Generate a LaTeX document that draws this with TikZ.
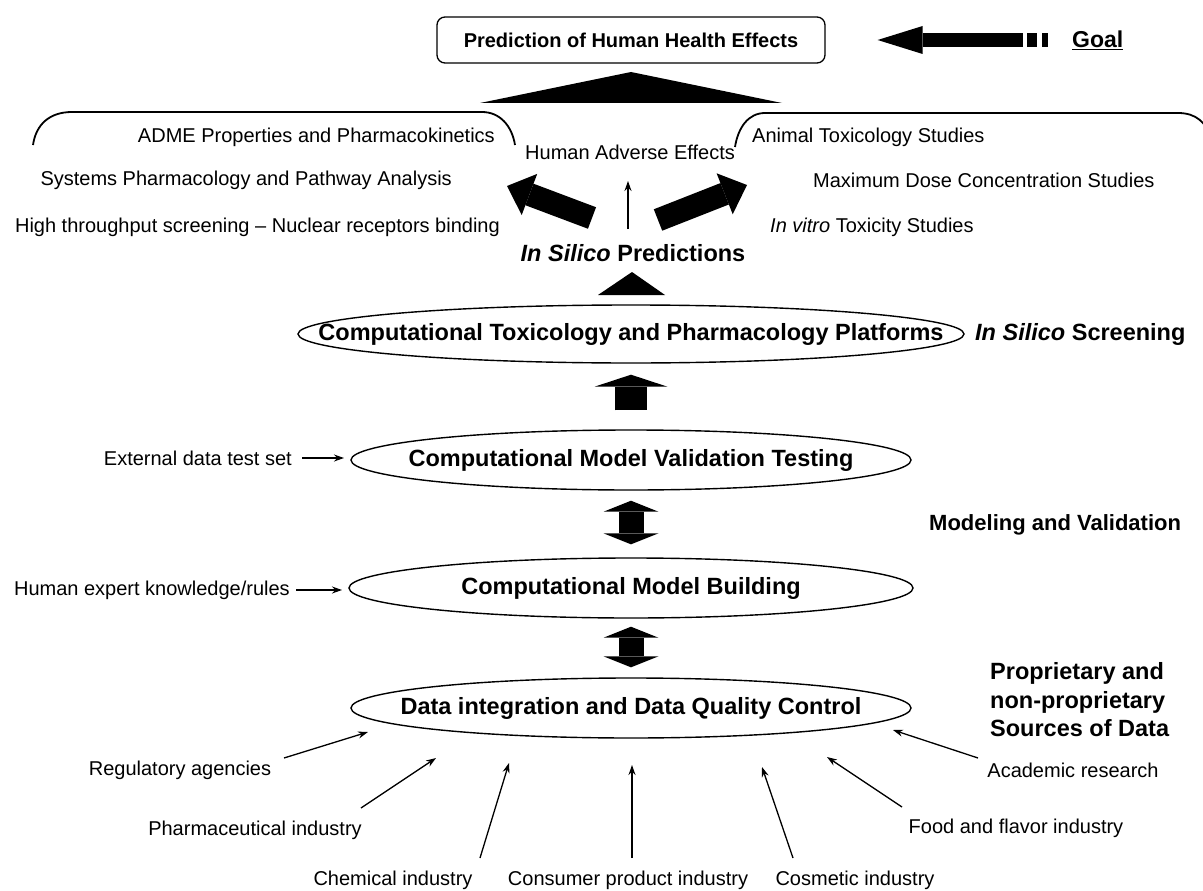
\documentclass[tikz,border=0pt]{standalone}
\usepackage{fontspec}
\setmainfont{Liberation Sans}
\usetikzlibrary{arrows.meta,shapes.geometric}
\begin{document}
\begin{tikzpicture}[x=1pt,y=-1pt,
  txt/.style={font=\fontsize{20}{24}\selectfont, inner sep=0pt},
  btxt/.style={font=\fontsize{23.5}{28.5}\selectfont\bfseries, inner sep=0pt},
  oval/.style={draw, ellipse, line width=1.4pt, inner sep=0pt},
  thinarrow/.style={line width=1.3pt, -{Stealth[length=10pt,width=7pt]}},
  fatarrow/.style={line width=23pt, -{Triangle[length=24pt,width=44pt,line width=0pt]}},
  bracket/.style={line width=1.8pt},
]
\useasboundingbox (0,0) rectangle (1203,891);

% goal box
\node[draw, rounded corners=8pt, line width=1.3pt, minimum width=388pt, minimum height=46pt,
      font=\fontsize{20}{24}\selectfont\bfseries, inner sep=0pt] (goalbox) at (631,40) {Prediction of Human Health Effects};
\coordinate (gs) at (1023,40);
\draw[line width=14pt, -{Triangle[length=45pt,width=28pt,line width=0pt]}, shorten >=52pt] (gs) -- (goalbox.east);
\fill (1027,33) rectangle (1037,47);
\fill (1042,33) rectangle (1048,47);
\node[font=\fontsize{23}{28}\selectfont\bfseries, anchor=west, inner sep=0pt] (goal) at (1072,40) {\underline{Goal}};

% big triangle
\fill (480,103) -- (631,72) -- (782,103) -- cycle;

% brackets
\draw[bracket] (33,145) .. controls (36,124) and (50,112) .. (72,112) -- (482,112) .. controls (500,112) and (512,126) .. (515,145);
\draw[bracket] (735,147) .. controls (738,128) and (748,113) .. (765,113) -- (1178,113) .. controls (1196,113) and (1206,122) .. (1212,140);

% upper texts
\node[txt, anchor=east] (adme) at (495,137) {ADME Properties and Pharmacokinetics};
\node[txt, anchor=west] (hae) at (525,152) {Human Adverse Effects};
\node[txt, anchor=east] (spa) at (452,180) {Systems Pharmacology and Pathway Analysis};
\node[txt, anchor=east] (hts) at (500,227) {High throughput screening -- Nuclear receptors binding};
\node[txt, anchor=west] (ats) at (752,137) {Animal Toxicology Studies};
\node[txt, anchor=west] (mdc) at (813,180) {Maximum Dose Concentration Studies};
\node[txt, anchor=west] (ivt) at (770,227) {\textit{In vitro} Toxicity Studies};
\node[font=\fontsize{23.5}{28}\selectfont\bfseries, inner sep=0pt] (isp) at (633,253) {\textit{In Silico} Predictions};

% prediction arrows
\coordinate (lt) at (592,218); \coordinate (lh) at (507,186);
\coordinate (rt) at (658,220); \coordinate (rh) at (747,185);
\draw[fatarrow] (lt) -- (lh);
\draw[fatarrow] (rt) -- (rh);
\coordinate (ct) at (628,229); \coordinate (ch) at (628,181);
\draw[thinarrow] (ct) -- (ch);

% small triangle
\fill (598,295) -- (632,272) -- (665,295) -- cycle;

% ellipses
\node[oval, minimum width=666pt, minimum height=58pt] (e1) at (631,334) {};
\node[btxt] (t1) at (e1.center) {Computational Toxicology and Pharmacology Platforms};
\node[oval, minimum width=560pt, minimum height=60pt] (e2) at (631,460) {};
\node[btxt] (t2) at (e2.center) {Computational Model Validation Testing};
\node[oval, minimum width=564pt, minimum height=60pt] (e3) at (631,588) {};
\node[btxt] (t3) at (e3.center) {Computational Model Building};
\node[oval, minimum width=560pt, minimum height=60pt] (e4) at (631,708) {};
\node[btxt] (t4) at (e4.center) {Data integration and Data Quality Control};

% vertical arrows
\draw[line width=32pt, -{Triangle[length=12pt,width=73pt,line width=0pt]}, shorten <=19pt, shorten >=11pt] (e2.north) -- (e1.south);
\draw[line width=25pt, {Triangle[length=11pt,width=55pt,line width=0pt]}-{Triangle[length=11pt,width=55pt,line width=0pt]}, shorten <=13pt, shorten >=10pt] (e3.north) -- (e2.south);
\draw[line width=25pt, {Triangle[length=11pt,width=55pt,line width=0pt]}-{Triangle[length=11pt,width=55pt,line width=0pt]}, shorten <=10pt, shorten >=8pt] (e4.north) -- (e3.south);

% right labels
\node[btxt, anchor=west] (iss) at (975,334) {\textit{In Silico} Screening};
\node[font=\fontsize{22}{26}\selectfont\bfseries, anchor=west, inner sep=0pt] (mav) at (929,525) {Modeling and Validation};
\node[btxt, anchor=west, align=left] (pns) at (990,700) {Proprietary and\\non-proprietary\\Sources of Data};

% left inputs
\node[txt, anchor=east] (edt) at (292,458) {External data test set};
\coordinate (edtend) at (344,458);
\draw[thinarrow] (edt.east) ++(10pt,0) coordinate (edtstart) (edtstart) -- (edtend);
\node[txt, anchor=east] (hek) at (290,590) {Human expert knowledge/rules};
\coordinate (hekend) at (342,590);
\draw[thinarrow] (hek.east) ++(6pt,0) coordinate (hekstart) (hekstart) -- (hekend);

% sources
\node[txt] (reg) at (180,770) {Regulatory agencies};
\node[txt] (pha) at (255,830) {Pharmaceutical industry};
\node[txt] (che) at (393,880) {Chemical industry};
\node[txt] (con) at (628,880) {Consumer product industry};
\node[txt] (cos) at (855,880) {Cosmetic industry};
\node[txt] (foo) at (1016,828) {Food and flavor industry};
\node[txt] (aca) at (1073,770) {Academic research};

\coordinate (rega) at (284,758); \coordinate (regb) at (368,732);
\coordinate (phaa) at (361,808); \coordinate (phab) at (436,758);
\coordinate (chea) at (480,858); \coordinate (cheb) at (509,763);
\coordinate (cona) at (632,858); \coordinate (conb) at (632,765);
\coordinate (cosa) at (793,858); \coordinate (cosb) at (762,767);
\coordinate (fooa) at (902,807); \coordinate (foob) at (827,757);
\coordinate (acaa) at (978,758); \coordinate (acab) at (893,730);
\foreach \s in {reg,pha,che,con,cos,foo,aca} {\draw[thinarrow] (\s a) -- (\s b);}
\end{tikzpicture}
\end{document}
